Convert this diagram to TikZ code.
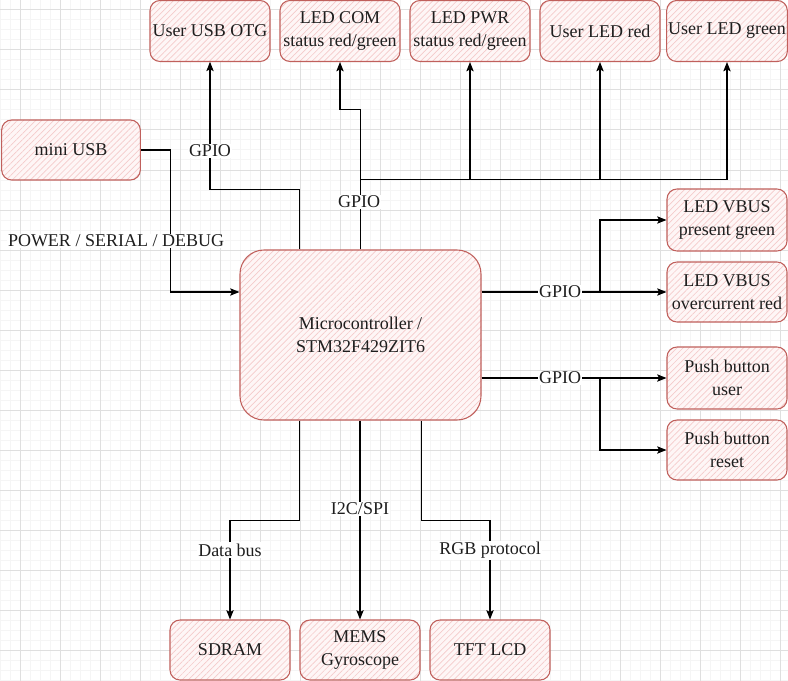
\documentclass[tikz,border=0pt]{standalone}
\usepackage{fontspec}
\setmainfont{Liberation Serif}
\usetikzlibrary{arrows.meta,patterns.meta}
\definecolor{boxline}{HTML}{C0605C}
\definecolor{hatch}{HTML}{F5CACA}
\definecolor{boxbg}{HTML}{FEF6F6}
\definecolor{gridmaj}{HTML}{DFDFDF}
\definecolor{gridmin}{HTML}{F5F5F5}
\definecolor{txt}{HTML}{1E1E1E}
\tikzset{
  blk/.style={draw=boxline, line width=0.8pt, rounded corners=7.5pt,
    preaction={fill=boxbg},
    pattern={Lines[angle=45,distance=3.2pt,line width=0.5pt]}, pattern color=hatch,
    minimum width=90pt, minimum height=45pt, inner sep=1pt,
    align=center, text=txt, font=\fontsize{13.5pt}{17pt}\selectfont},
  lbl/.style={fill=white, inner sep=1pt, text=txt, font=\fontsize{13.5pt}{17pt}\selectfont},
  wire/.style={line width=0.8pt, black},
  arr/.style={wire, -{Stealth[length=7pt,width=5.5pt,inset=1.5pt]}},
  gmin/.style={gridmin, line width=0.75pt},
  gmaj/.style={gridmaj, line width=0.75pt}
}
\begin{document}
\begin{tikzpicture}[x=0.75pt,y=-0.75pt]
\useasboundingbox (0,0) rectangle (788,681);
\fill[white] (0,0) rectangle (788,681);
\foreach \x in {0,10,...,780} \draw[gmin] (\x,0) -- (\x,681);
\foreach \y in {0,10,...,680} \draw[gmin] (0,\y) -- (788,\y);
\foreach \x in {20,60,...,780} \draw[gmaj] (\x,0) -- (\x,681);
\foreach \y in {10,50,...,680} \draw[gmaj] (0,\y) -- (788,\y);

% top row
\node[blk, minimum height=45.75pt] (usbotg) at (210,31) {User USB OTG};
\node[blk, minimum height=45.75pt] (ledcom) at (340,31) {LED COM\\status red/green};
\node[blk, minimum height=45.75pt] (ledpwr) at (470,31) {LED PWR\\status red/green};
\node[blk, minimum height=45.75pt] (ledred) at (600,31) {User LED red};
\node[blk, minimum height=45.75pt] (ledgreen) at (727,31) {User LED green};
% left
\node[blk, minimum width=104pt] (miniusb) at (71,150) {mini USB};
% MCU
\node[blk, minimum width=180.75pt, minimum height=127.5pt, rounded corners=18pt] (mcu) at (360.5,335) {Microcontroller /\\STM32F429ZIT6};
% right column
\node[blk, minimum height=46.5pt] (vbusg) at (727,220) {LED VBUS\\present green};
\node[blk] (vbusr) at (727,292) {LED VBUS\\overcurrent red};
\node[blk, minimum height=46.5pt] (pbuser) at (727,378) {Push button\\user};
\node[blk] (pbreset) at (727,450) {Push button\\reset};
% bottom row
\node[blk] (sdram) at (230,650) {SDRAM};
\node[blk] (mems) at (360,650) {MEMS\\Gyroscope};
\node[blk] (tft) at (490,650) {TFT LCD};

% mini USB -> MCU
\draw[arr] (miniusb.east) -- ++(30,0) |- (mcu.west |- vbusr.west);
\node[lbl] (lpow) at (116,241) {POWER / SERIAL / DEBUG};

% MCU -> User USB OTG
\draw[arr] ([xshift=45pt]mcu.north west) -- ++(0,-60) -| (usbotg.south);
\node[lbl] (lg1) at (210,151) {GPIO};

% MCU -> top LEDs
\draw[wire] (mcu.north) -- ++(0,-70) coordinate (j);
\draw[arr] (j) -- ++(0,-70) -| (ledcom.south);
\draw[arr] (j) -| (ledpwr.south);
\draw[arr] (j) -| (ledred.south);
\draw[arr] (j) -| (ledgreen.south);
\node[lbl] (lg2) at (359,202) {GPIO};

% MCU -> VBUS LEDs
\coordinate (b1) at (600,292);
\draw[arr] (mcu.east |- vbusr.west) -- (vbusr.west);
\draw[arr] (b1) |- (vbusg.west);
\node[lbl] (lg3) at (560,292) {GPIO};

% MCU -> push buttons
\coordinate (b2) at (600,378);
\draw[arr] (mcu.east |- pbuser.west) -- (pbuser.west);
\draw[arr] (b2) |- (pbreset.west);
\node[lbl] (lg4) at (560,378) {GPIO};

% bottom
\draw[arr] ([xshift=45pt]mcu.south west) -- ++(0,100) -| (sdram.north);
\draw[arr] (mcu.south -| mems.north) -- (mems.north);
\draw[arr] ([xshift=-45pt]mcu.south east) -- ++(0,100) -| (tft.north);
\node[lbl] (ldb) at (230,550) {Data bus};
\node[lbl] (li2c) at (360,509) {I2C/SPI};
\node[lbl] (lrgb) at (490,550) {RGB protocol};
\end{tikzpicture}
\end{document}
